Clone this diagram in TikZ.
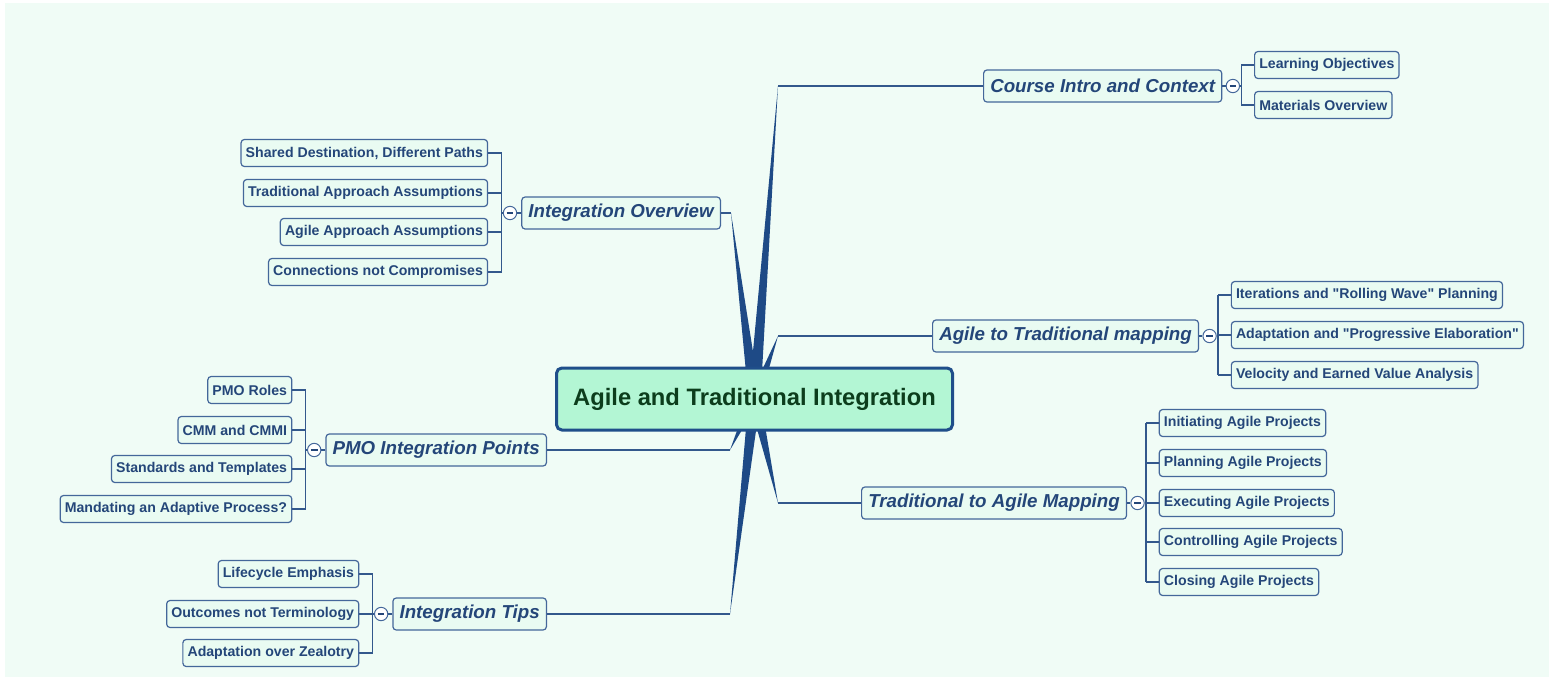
\documentclass[tikz,border=0pt]{standalone}
\usepackage{fontspec}
\setmainfont{Liberation Sans}
\usetikzlibrary{positioning}

\definecolor{mapbg}{HTML}{F0FCF6}
\definecolor{rootfill}{HTML}{B3F6D4}
\definecolor{rootline}{HTML}{1F4E8A}
\definecolor{roottext}{HTML}{0C3D1C}
\definecolor{boxfill}{HTML}{E9FBF2}
\definecolor{boxline}{HTML}{44679A}
\definecolor{boxtext}{HTML}{244679}
\definecolor{linkcol}{HTML}{33588C}
\definecolor{wedgecol}{HTML}{1E4A86}

\tikzset{
  mainbox/.style={draw=rootline, line width=2.25pt, fill=rootfill, rounded corners=4pt,
    minimum width=297pt, minimum height=46.5pt, text=roottext,
    font=\fontsize{17.8pt}{20pt}\selectfont\bfseries},
  topicbox/.style={draw=boxline, line width=0.9pt, fill=boxfill, rounded corners=2.5pt,
    minimum height=24pt, inner xsep=5pt, inner ysep=0pt, text=boxtext,
    font=\fontsize{14.05pt}{16pt}\selectfont\bfseries\itshape},
  leafbox/.style={draw=boxline, line width=0.9pt, fill=boxfill, rounded corners=2.5pt,
    minimum height=20.25pt, inner xsep=3.5pt, inner ysep=0pt, text=boxtext,
    font=\fontsize{10.6pt}{12pt}\selectfont\bfseries},
  togglebtn/.style={circle, draw=boxline, line width=0.75pt, fill=white, minimum size=10pt,
    inner sep=0pt, path picture={\draw[boxtext, line width=0.9pt]
      ([xshift=-2.5pt]path picture bounding box.center) --
      ([xshift=2.5pt]path picture bounding box.center);}},
  linkline/.style={draw=linkcol, line width=1pt},
  wedgefill/.style={fill=wedgecol},
}

\begin{document}
\begin{tikzpicture}[x=0.75pt, y=-0.75pt]
\useasboundingbox (0,0) rectangle (1554,679);
\fill[mapbg] (5,3) rectangle (1549,677);

% hub and elbows of the main branches
\coordinate (hub) at (754.5,399);
\coordinate (ciE) at (778,86);
\coordinate (ioE) at (731,213);
\coordinate (atE) at (778,336);
\coordinate (pmoE) at (730,450);
\coordinate (tipsE) at (730,614);
\coordinate (taE) at (778,503);

\foreach \e in {ciE,ioE,atE,pmoE,tipsE,taE}
  \fill[wedgefill] ([xshift=-4.5pt]hub) -- (\e) -- ([xshift=4.5pt]hub) -- cycle;

\node[mainbox] (root) at (hub) {Agile and Traditional Integration};

% right side topics
\node[topicbox, anchor=west] (ci) at (983,86) {Course Intro and Context};
\node[topicbox, anchor=west] (at) at (932,336) {Agile to Traditional mapping};
\node[topicbox, anchor=west] (ta) at (861,503) {Traditional to Agile Mapping};
% left side topics
\node[topicbox, anchor=east] (io) at (721,213) {Integration Overview};
\node[topicbox, anchor=east] (pmo) at (547,450) {PMO Integration Points};
\node[topicbox, anchor=east] (tips) at (547,614) {Integration Tips};

\draw[linkline] (ciE) -- (ci.west);
\draw[linkline] (atE) -- (at.west);
\draw[linkline] (taE) -- (ta.west);
\draw[linkline] (ioE) -- (io.east);
\draw[linkline] (pmoE) -- (pmo.east);
\draw[linkline] (tipsE) -- (tips.east);

% toggles and brackets
\node[togglebtn, right=2.5pt of ci] (ci-t) {};
\node[togglebtn, right=2.5pt of at] (at-t) {};
\node[togglebtn, right=2.5pt of ta] (ta-t) {};
\node[togglebtn, left=3pt of io] (io-t) {};
\node[togglebtn, left=3pt of pmo] (pmo-t) {};
\node[togglebtn, left=3pt of tips] (tips-t) {};
\coordinate[right=1pt of ci-t] (ciB);
\coordinate[right=1pt of at-t] (atB);
\coordinate[right=1pt of ta-t] (taB);
\coordinate[left=1pt of io-t] (ioB);
\coordinate[left=1pt of pmo-t] (pmoB);
\coordinate[left=1pt of tips-t] (tipsB);
\draw[linkline] (ci.east) -- (ci-t.west) (ci-t.east) -- (ciB);
\draw[linkline] (at.east) -- (at-t.west) (at-t.east) -- (atB);
\draw[linkline] (ta.east) -- (ta-t.west) (ta-t.east) -- (taB);
\draw[linkline] (io.west) -- (io-t.east) (io-t.west) -- (ioB);
\draw[linkline] (pmo.west) -- (pmo-t.east) (pmo-t.west) -- (pmoB);
\draw[linkline] (tips.west) -- (tips-t.east) (tips-t.west) -- (tipsB);

% leaves
\foreach \n/\y/\txt in {1/65/Learning Objectives, 2/105/Materials Overview} {
  \node[leafbox, anchor=west, xshift=9.5pt] (ci-\n) at (ciB |- 0,\y) {\txt};
  \draw[linkline] (ciB |- ci-\n.west) -- (ci-\n.west);
}
\draw[linkline] (ciB |- ci-1.west) -- (ciB |- ci-2.west);

\foreach \n/\y/\txt in {1/295/Iterations and \textquotedbl Rolling Wave\textquotedbl{} Planning,
    2/335/Adaptation and \textquotedbl Progressive Elaboration\textquotedbl,
    3/375/Velocity and Earned Value Analysis} {
  \node[leafbox, anchor=west, xshift=9.5pt] (at-\n) at (atB |- 0,\y) {\txt};
  \draw[linkline] (atB |- at-\n.west) -- (at-\n.west);
}
\draw[linkline] (atB |- at-1.west) -- (atB |- at-3.west);

\foreach \n/\y/\txt in {1/423/Initiating Agile Projects, 2/463/Planning Agile Projects,
    3/503/Executing Agile Projects, 4/542/Controlling Agile Projects,
    5/582/Closing Agile Projects} {
  \node[leafbox, anchor=west, xshift=9.5pt] (ta-\n) at (taB |- 0,\y) {\txt};
  \draw[linkline] (taB |- ta-\n.west) -- (ta-\n.west);
}
\draw[linkline] (taB |- ta-1.west) -- (taB |- ta-5.west);

\foreach \n/\y/\txt in {1/153/{Shared Destination, Different Paths},
    2/193/Traditional Approach Assumptions, 3/232/Agile Approach Assumptions,
    4/272/Connections not Compromises} {
  \node[leafbox, anchor=east, xshift=-10pt] (io-\n) at (ioB |- 0,\y) {\txt};
  \draw[linkline] (ioB |- io-\n.east) -- (io-\n.east);
}
\draw[linkline] (ioB |- io-1.east) -- (ioB |- io-4.east);

\foreach \n/\y/\txt in {1/390/PMO Roles, 2/430/CMM and CMMI,
    3/469/Standards and Templates, 4/509/Mandating an Adaptive Process?} {
  \node[leafbox, anchor=east, xshift=-10pt] (pmo-\n) at (pmoB |- 0,\y) {\txt};
  \draw[linkline] (pmoB |- pmo-\n.east) -- (pmo-\n.east);
}
\draw[linkline] (pmoB |- pmo-1.east) -- (pmoB |- pmo-4.east);

\foreach \n/\y/\txt in {1/574/Lifecycle Emphasis, 2/614/Outcomes not Terminology,
    3/653/Adaptation over Zealotry} {
  \node[leafbox, anchor=east, xshift=-10pt] (tips-\n) at (tipsB |- 0,\y) {\txt};
  \draw[linkline] (tipsB |- tips-\n.east) -- (tips-\n.east);
}
\draw[linkline] (tipsB |- tips-1.east) -- (tipsB |- tips-3.east);
\end{tikzpicture}
\end{document}
